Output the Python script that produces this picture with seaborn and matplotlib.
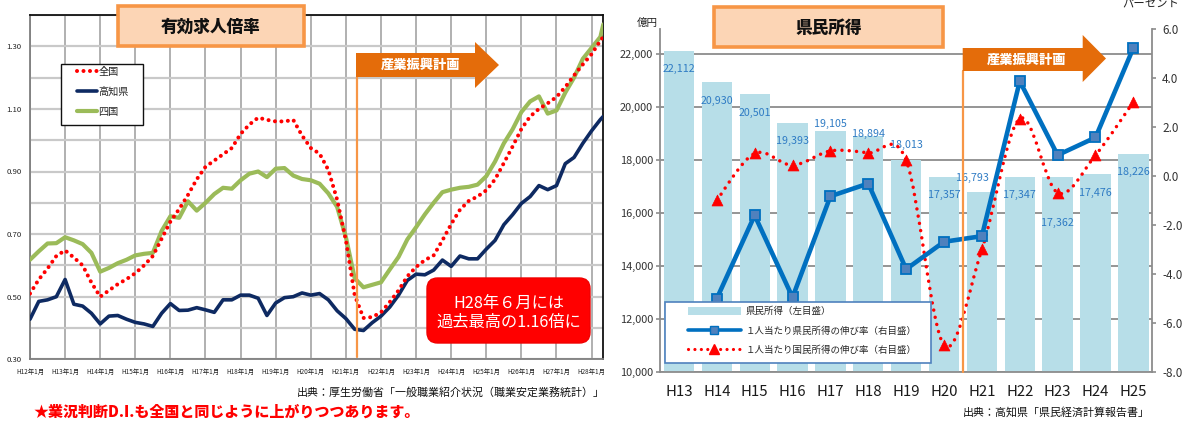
import numpy as np
import pandas as pd
import matplotlib
matplotlib.use("Agg")
import matplotlib.pyplot as plt
import seaborn as sns
from matplotlib.patches import FancyBboxPatch, Polygon, Patch, PathPatch, Rectangle
from matplotlib.lines import Line2D
from matplotlib.path import Path
from matplotlib.ticker import FuncFormatter

# ---------------- data: 有効求人倍率 (readings every 3 months, month index from H12年1月) ----
months = list(range(0, 196, 3)) + [196]
zenkoku = [0.51, 0.555, 0.59, 0.63, 0.648, 0.625, 0.60, 0.545, 0.50, 0.52,
           0.54, 0.556, 0.575, 0.60, 0.63, 0.685, 0.74, 0.78, 0.825, 0.875,
           0.915, 0.935, 0.955, 0.975, 1.02, 1.05, 1.072, 1.065, 1.06, 1.06,
           1.065, 1.015, 0.975, 0.957, 0.905, 0.81, 0.68, 0.505, 0.432, 0.435,
           0.45, 0.483, 0.52, 0.565, 0.595, 0.617, 0.632, 0.68, 0.732, 0.778,
           0.806, 0.82, 0.84, 0.875, 0.927, 0.98, 1.036, 1.076, 1.10, 1.118,
           1.138, 1.17, 1.207, 1.242, 1.275, 1.318, 1.33]
kochi = [0.428, 0.485, 0.49, 0.50, 0.555, 0.476, 0.47, 0.447, 0.413, 0.438,
         0.44, 0.428, 0.418, 0.413, 0.405, 0.447, 0.478, 0.456, 0.457, 0.465,
         0.458, 0.45, 0.49, 0.49, 0.505, 0.505, 0.495, 0.44, 0.48, 0.497,
         0.50, 0.512, 0.505, 0.51, 0.49, 0.455, 0.43, 0.396, 0.392, 0.417,
         0.438, 0.467, 0.505, 0.552, 0.572, 0.57, 0.585, 0.617, 0.597, 0.63,
         0.621, 0.621, 0.652, 0.68, 0.73, 0.762, 0.798, 0.82, 0.855, 0.842,
         0.855, 0.925, 0.945, 0.99, 1.03, 1.066, 1.076]
shikoku = [0.618, 0.645, 0.67, 0.671, 0.69, 0.68, 0.668, 0.64, 0.58, 0.592,
           0.607, 0.618, 0.632, 0.637, 0.64, 0.71, 0.757, 0.752, 0.805, 0.775,
           0.80, 0.828, 0.848, 0.845, 0.872, 0.893, 0.90, 0.882, 0.909, 0.911,
           0.887, 0.876, 0.872, 0.861, 0.83, 0.787, 0.69, 0.559, 0.53, 0.538,
           0.546, 0.587, 0.627, 0.683, 0.722, 0.763, 0.80, 0.834, 0.842, 0.848,
           0.851, 0.858, 0.885, 0.932, 0.99, 1.035, 1.09, 1.124, 1.14, 1.085,
           1.095, 1.152, 1.20, 1.26, 1.295, 1.33, 1.37]
series_names = ["全国", "高知県", "四国"]
left_xtick_months = [0, 12, 24, 36, 48, 60, 72, 84, 96, 108, 120, 132, 144, 156, 168, 180, 192]
left_xtick_labels = ["H12年1月", "H13年1月", "H14年1月", "H15年1月", "H16年1月", "H17年1月",
                     "H18年1月", "H19年1月", "H20年1月", "H21年1月", "H22年1月", "H23年1月",
                     "H24年1月", "H25年1月", "H26年1月", "H27年1月", "H28年1月"]
left_yticks = [0.30, 0.50, 0.70, 0.90, 1.10, 1.30]
left_yminor = [0.40, 0.60, 0.80, 1.00, 1.20, 1.40]

# ---------------- data: 県民所得 ----------------
years = ["H13", "H14", "H15", "H16", "H17", "H18", "H19", "H20", "H21", "H22", "H23", "H24", "H25"]
income = [22112, 20930, 20501, 19393, 19105, 18894, 18013, 17357, 16793, 17347, 17362, 17476, 18226]
pref_growth = [np.nan, -5.0, -1.6, -4.95, -0.82, -0.30, -3.8, -2.68, -2.45, 3.88, 0.86, 1.58, 5.24]
nat_growth = [np.nan, -0.98, 0.93, 0.45, 1.03, 0.95, 0.65, -6.9, -2.99, 2.35, -0.68, 0.86, 3.03]
income_ticks = [10000, 12000, 14000, 16000, 18000, 20000, 22000]
growth_ticks = [-8.0, -6.0, -4.0, -2.0, 0.0, 2.0, 4.0, 6.0]
right_legend_labels = ["県民所得（左目盛）", "１人当たり県民所得の伸び率（右目盛）",
                       "１人当たり国民所得の伸び率（右目盛）"]

# label offsets in pixels (dx, dy), style only
label_offsets_px = [(0, -18), (0, -19), (0, -19), (0, -18), (0, 7), (0, 2), (0, 15),
                    (0, -18), (-9, 14), (0, -18), (0, -46), (0, -19), (0, -18)]

assert len(months) == len(zenkoku) == len(kochi) == len(shikoku)

# ---------------- style ----------------
sns.set_theme(style="white")
plt.rcParams["font.family"] = ["Noto Sans CJK JP", "DejaVu Sans"]
plt.rcParams["axes.unicode_minus"] = False

W, H = 1186, 421
fig = plt.figure(figsize=(W / 100, H / 100), dpi=100)


def fx(p):
    return p / W


def fy(p):
    return 1 - p / H


PX = 0.72  # px -> pt

# =================== LEFT PANEL ===================
ax1 = fig.add_axes([fx(30), fy(359.3), (603.3 - 30) / W, (359.3 - 15) / H])
df1 = pd.DataFrame({"month": months, "全国": zenkoku, "高知県": kochi, "四国": shikoku})

RED = "#FF0000"
NAVY = "#0E2A62"
GREEN = "#9BBB59"

sns.lineplot(data=df1, x="month", y="四国", ax=ax1, color=GREEN, linewidth=3.0,
             errorbar=None, sort=False, zorder=3)
sns.lineplot(data=df1, x="month", y="高知県", ax=ax1, color=NAVY, linewidth=2.6,
             errorbar=None, sort=False, zorder=4)
sns.lineplot(data=df1, x="month", y="全国", ax=ax1, color=RED, linewidth=2.9,
             errorbar=None, sort=False, zorder=5)
dot_style = (0, (0.01, 1.6))
ax1.lines[-1].set_linestyle(dot_style)
ax1.lines[-1].set_dash_capstyle("round")
for ln in ax1.lines[:2]:
    ln.set_solid_joinstyle("round")

ax1.set_xlim(0, 196)
ax1.set_ylim(0.30, 1.40)
ax1.set_xlabel("")
ax1.set_ylabel("")
ax1.set_xticks(left_xtick_months)
ax1.set_xticklabels(left_xtick_labels)
ax1.set_yticks(left_yticks)
ax1.set_yticks(left_yminor, minor=True)
ax1.yaxis.set_major_formatter(FuncFormatter(lambda v, p: f"{v:.2f}"))
ax1.grid(axis="y", which="both", color="#C9C9C9", linewidth=1.6, zorder=0)
ax1.grid(axis="x", which="major", color="#A3A3A3", linewidth=1.2, zorder=0)
ax1.set_axisbelow(True)
ax1.tick_params(axis="x", labelsize=4.6, length=2, width=0.8, color="#808080",
                pad=4, labelcolor="#222222")
ax1.tick_params(axis="y", which="both", labelsize=5.6, length=0, pad=6, labelcolor="#222222")
for side in ["left", "bottom"]:
    ax1.spines[side].set_color("#7F7F7F")
    ax1.spines[side].set_linewidth(1.3)
for side in ["top", "right"]:
    ax1.spines[side].set_color("#111111")
    ax1.spines[side].set_linewidth(1.3)

# legend (frame drawn separately)
ax1.add_patch(Rectangle((fx(60.7), fy(125)), fx(142.7) - fx(60.7), fy(64) - fy(125),
                        transform=fig.transFigure, facecolor="white", edgecolor="#111111",
                        linewidth=1.0, zorder=6, clip_on=False))
h_left = [Line2D([], [], color=RED, linewidth=2.9, linestyle=dot_style, dash_capstyle="round"),
          Line2D([], [], color=NAVY, linewidth=2.6),
          Line2D([], [], color=GREEN, linewidth=3.0)]
leg1 = ax1.legend(h_left, series_names, loc="upper left",
                  bbox_to_anchor=((76.7 - 30) / 573.3, 1 - (67 - 15) / 344.3),
                  frameon=False, fontsize=7.3, handlelength=2.0, handletextpad=0.15,
                  labelspacing=0.95, borderpad=0, borderaxespad=0)
leg1.set_zorder(7)

# =================== RIGHT PANEL ===================
ax2 = fig.add_axes([fx(660), fy(372), (1152.3 - 660) / W, (372 - 29.3) / H])
BAR = "#B7DEE8"
sns.barplot(x=years, y=income, color=BAR, saturation=1, width=0.8, ax=ax2,
            linewidth=0, zorder=2)
ax2.set_xlim(-0.5, len(years) - 0.5)
ax2.set_ylim(10000, 22935)
ax2.set_yticks(income_ticks)
ax2.yaxis.set_major_formatter(FuncFormatter(lambda v, p: f"{int(v):,}"))
ax2.yaxis.grid(True, color="#8C8C8C", linewidth=1.3)
ax2.xaxis.grid(False)
ax2.set_axisbelow(True)
ax2.set_xlabel("")
ax2.set_ylabel("")
ax2.set_xticks(np.arange(len(years)) - 0.5, minor=True)
ax2.tick_params(axis="x", which="major", length=0, labelsize=10.8, pad=9, labelcolor="#1A1A1A")
ax2.tick_params(axis="x", which="minor", length=4, width=1.2, color="#8C8C8C", direction="out")
ax2.tick_params(axis="y", which="major", length=3, width=1.2, color="#8C8C8C",
                labelsize=7.9, pad=2, labelcolor="#333333", direction="out")
ax2.spines["top"].set_visible(False)
for side in ["left", "bottom", "right"]:
    ax2.spines[side].set_color("#8C8C8C")
    ax2.spines[side].set_linewidth(1.3)

LABEL_BLUE = "#2E7BC4"
for i, v in enumerate(income):
    dx, dy = label_offsets_px[i]
    ax2.annotate(f"{v:,}", xy=(i, v), xytext=(dx * PX, dy * PX), textcoords="offset points",
                 ha="center", va="center", fontsize=7.7, color=LABEL_BLUE, zorder=3)

ax3 = ax2.twinx()
ax3.set_ylim(-8, 6)
ax3.set_yticks(growth_ticks)
ax3.yaxis.set_major_formatter(FuncFormatter(lambda v, p: f"{v:.1f}"))
ax3.tick_params(axis="y", length=3, width=1.2, color="#8C8C8C", labelsize=8.4, pad=4,
                labelcolor="#333333", direction="out")
ax3.grid(False)
for side in ["left", "bottom", "right", "top"]:
    ax3.spines[side].set_visible(False)

pos = np.arange(len(years))
pg = np.array(pref_growth, dtype=float)
ng = np.array(nat_growth, dtype=float)
mp = ~np.isnan(pg)
mn = ~np.isnan(ng)

LINE_BLUE = "#0070C0"
sns.lineplot(x=pos[mp], y=pg[mp], ax=ax3, color=LINE_BLUE, linewidth=3.3, marker="s",
             markersize=6.8, markerfacecolor="#4F81BD", markeredgecolor=LINE_BLUE,
             markeredgewidth=1.3, errorbar=None, sort=False, zorder=4)


def smooth_path(xs, ys):
    P = np.column_stack([xs, ys])
    n = len(P)
    verts = [P[0]]
    codes = [Path.MOVETO]
    for i in range(n - 1):
        p0 = P[i - 1] if i > 0 else P[i]
        p1 = P[i]
        p2 = P[i + 1]
        p3 = P[i + 2] if i + 2 < n else P[i + 1]
        verts += [p1 + (p2 - p0) / 6, p2 - (p3 - p1) / 6, p2]
        codes += [Path.CURVE4] * 3
    return Path(verts, codes)


red_path = PathPatch(smooth_path(pos[mn], ng[mn]), facecolor="none", edgecolor=RED,
                     linewidth=2.5, linestyle=(0, (0.01, 2.1)), capstyle="round", zorder=3)
ax3.add_patch(red_path)
sns.scatterplot(x=pos[mn], y=ng[mn], ax=ax3, marker="^", s=62, color=RED, edgecolor=RED,
                linewidth=0.5, zorder=5, legend=False)
ax3.set_xlim(-0.5, len(years) - 0.5)

# right legend
ax3.add_patch(Rectangle((fx(665), fy(363)), fx(931) - fx(665), fy(302) - fy(363),
                        transform=fig.transFigure, facecolor="white", edgecolor="#4F81BD",
                        linewidth=1.2, zorder=6, clip_on=False))
h_right = [Patch(facecolor=BAR, edgecolor="none"),
           Line2D([], [], color=LINE_BLUE, linewidth=2.6, marker="s", markersize=5.5,
                  markerfacecolor="#4F81BD", markeredgecolor=LINE_BLUE),
           Line2D([], [], color=RED, linewidth=2.3, linestyle=(0, (0.01, 2.0)),
                  dash_capstyle="round", marker="^", markersize=7, markerfacecolor=RED,
                  markeredgecolor=RED)]
leg2 = ax3.legend(h_right, right_legend_labels, loc="upper left",
                  bbox_to_anchor=((688 - 660) / 492.3, 1 - (307 - 29.3) / 342.7),
                  frameon=False, fontsize=6.8, handlelength=5.6, handleheight=0.95,
                  handletextpad=0.5, labelspacing=1.05, borderpad=0, borderaxespad=0,
                  numpoints=1)
leg2.set_zorder(7)

# =================== DECORATIONS ===================
ORANGE_BORDER = "#F79646"
ORANGE_FILL = "#FCD5B5"
ARROW = "#E46C0A"


def title_box(x0, y0, x1, y1, text):
    fig.add_artist(FancyBboxPatch((fx(x0), fy(y1)), fx(x1) - fx(x0), fy(y0) - fy(y1),
                                  boxstyle="square,pad=0", transform=fig.transFigure,
                                  facecolor=ORANGE_FILL, edgecolor=ORANGE_BORDER,
                                  linewidth=2.6, zorder=8))
    fig.text(fx((x0 + x1) / 2), fy((y0 + y1) / 2 + 1), text, ha="center", va="center",
             fontsize=12, fontweight="heavy", color="#111111", zorder=9)


def plan_arrow(x0, xb, x1, yb0, yb1, yh0, yh1, tx):
    pts = [(x0, yb0), (xb, yb0), (xb, yh0), (x1, (yh0 + yh1) / 2), (xb, yh1), (xb, yb1), (x0, yb1)]
    fig.add_artist(Polygon([(fx(a), fy(b)) for a, b in pts], closed=True,
                           transform=fig.transFigure, facecolor=ARROW, edgecolor="none",
                           zorder=8))
    fig.text(fx(tx), fy((yb0 + yb1) / 2), "産業振興計画", ha="center", va="center",
             fontsize=9.5, fontweight="heavy", color="white", zorder=9)


title_box(118, 6, 304, 46, "有効求人倍率")
title_box(714, 7, 943, 47, "県民所得")

plan_arrow(356, 475, 499, 53, 77, 42, 88, 421)
plan_arrow(962.7, 1082.7, 1106, 48, 71, 35, 82, 1027)

fig.add_artist(Line2D([fx(357.3), fx(357.3)], [fy(77), fy(357)], transform=fig.transFigure,
                      color=ORANGE_BORDER, linewidth=1.6, zorder=7))
fig.add_artist(Line2D([fx(962.7), fx(962.7)], [fy(71), fy(372)], transform=fig.transFigure,
                      color=ORANGE_BORDER, linewidth=1.6, zorder=7))

# callout
fig.add_artist(FancyBboxPatch((fx(427), fy(343)), fx(590) - fx(427), fy(278) - fy(343),
                              boxstyle="round,pad=0,rounding_size=0.009",
                              mutation_aspect=W / H,
                              transform=fig.transFigure, facecolor="#FF0000",
                              edgecolor="#F00000", linewidth=1, zorder=8))
fig.text(fx(508.5), fy(303.5), "H28年６月には", ha="center", va="center", fontsize=11.7,
         color="white", zorder=9)
fig.text(fx(508.5), fy(322), "過去最高の1.16倍に", ha="center", va="center", fontsize=11.7,
         color="white", zorder=9)

# axis captions & sources
fig.text(fx(647), fy(22.5), "億円", ha="center", va="center", fontsize=7.6, color="#222222")
fig.text(fx(1151), fy(4), "パーセント", ha="center", va="center", fontsize=8.2, color="#222222")
fig.text(fx(605), fy(392.5), "出典：厚生労働省「一般職業紹介状況（職業安定業務統計）」",
         ha="right", va="center", fontsize=7.9, color="#111111")
fig.text(fx(1150), fy(412), "出典：高知県「県民経済計算報告書」", ha="right", va="center",
         fontsize=7.9, color="#111111")
fig.text(fx(33), fy(412.5), "★業況判断D.I.も全国と同じように上がりつつあります。",
         ha="left", va="center", fontsize=10.8, fontweight="heavy", color="#FF0000")

fig.savefig("out.png", dpi=100)
